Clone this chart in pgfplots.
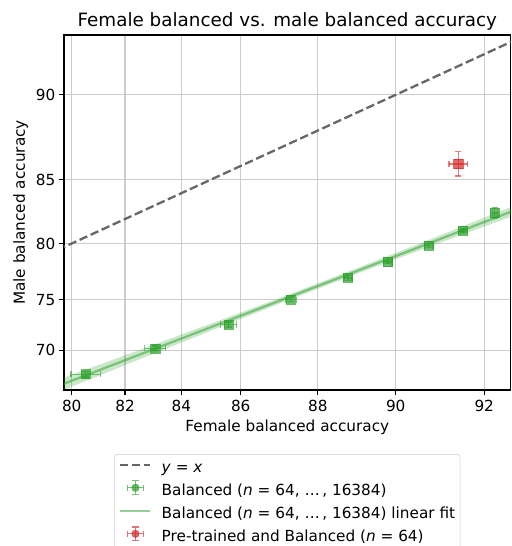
\documentclass[border=0pt]{standalone}
\usepackage{fontspec}
\setmainfont{DejaVu Sans}
\usepackage{pgfplots}
\pgfplotsset{compat=1.18}

\definecolor{tabgreen}{RGB}{44,160,44}
\definecolor{tabred}{RGB}{214,39,40}
\definecolor{dgray}{RGB}{102,102,102}
\definecolor{gridc}{RGB}{204,204,204}

% probit (inverse standard normal CDF) of a percentage, p > 50
\pgfmathdeclarefunction{probit}{1}{%
  \begingroup
  \pgfmathparse{sqrt(-2*ln(1-(#1)/100))}%
  \let\probitT\pgfmathresult
  \pgfmathparse{\probitT-(2.515517+0.802853*\probitT+0.010328*\probitT*\probitT)/(1+1.432788*\probitT+0.189269*\probitT*\probitT+0.001308*\probitT*\probitT*\probitT)}%
  \pgfmathsmuggle\pgfmathresult
  \endgroup}

\newcommand{\errlegendimage}[1]{%
  \draw[overlay, #1, opacity=0.65, line width=0.88pt]
    (5.5pt,3pt) -- (17.5pt,3pt)
    (5.5pt,0.8pt) -- (5.5pt,5.2pt)
    (17.5pt,0.8pt) -- (17.5pt,5.2pt)
    (11.5pt,-2pt) -- (11.5pt,8pt)
    (9.3pt,-2pt) -- (13.7pt,-2pt)
    (9.3pt,8pt) -- (13.7pt,8pt);
  \fill[overlay, #1, opacity=0.7] (9pt,0.5pt) rectangle (14pt,5.5pt);
  \path[draw=none, fill=none] (0pt,0pt) rectangle (22pt,6pt);
}
\newcommand{\linelegendimage}[1]{%
  \draw[overlay, #1] (0pt,3pt) -- (22pt,3pt);
  \path[draw=none, fill=none] (0pt,0pt) rectangle (22pt,6pt);
}

\begin{document}
\begin{tikzpicture}
\begin{axis}[
  at={(0,0)}, anchor=south west,
  scale only axis,
  width=321.6pt, height=255.6pt,
  x coord trafo/.code={\pgfmathparse{probit(#1)}},
  y coord trafo/.code={\pgfmathparse{probit(#1)}},
  xmin=79.70, xmax=92.55,
  ymin=65.80, ymax=92.86,
  xtick={80,82,84,86,88,90,92},
  xticklabels={80,82,84,86,88,90,92},
  ytick={70,75,80,85,90},
  yticklabels={70,75,80,85,90},
  tick pos=left,
  tick align=outside,
  major tick length=3.85pt,
  tick style={black, line width=0.88pt},
  axis line style={line width=0.88pt},
  grid=major,
  grid style={gridc, line width=0.88pt},
  ticklabel style={font=\fontsize{11}{13}\selectfont, inner sep=0pt},
  xticklabel style={anchor=north, yshift=-3.6pt},
  yticklabel style={anchor=east, xshift=-2.2pt},
  title={Female balanced vs. male balanced accuracy},
  title style={at={(0.5,1)}, anchor=base, yshift=0pt, font=\fontsize{13.2}{15}\selectfont, inner sep=0pt},
  xlabel={Female balanced accuracy},
  xlabel style={at={(0.5,0)}, anchor=base, yshift=-30pt, font=\fontsize{11}{13}\selectfont, inner sep=0pt},
  ylabel={Male balanced accuracy},
  ylabel style={at={([xshift=-28.1pt]axis description cs:0,0.5)}, anchor=base, font=\fontsize{11}{13}\selectfont, inner sep=0pt},
  legend style={at={(0.5,-0.1803)}, anchor=north, draw=black!20, rounded corners=2pt, fill=white,
    font=\fontsize{11}{13}\selectfont, inner xsep=3.5pt, inner ysep=4.5pt,
    nodes={inner sep=0pt, text height=8.2pt, text depth=2.6pt},
    column sep=8.4pt, row sep=5.2pt},
  legend cell align=left,
  clip=true,
]
% y = x
\addplot[dgray, line width=1.65pt, dash pattern=on 6.1pt off 2.64pt,
  legend image code/.code={\linelegendimage{dgray, line width=1.65pt, dash pattern=on 6.1pt off 2.64pt}}]
  coordinates {(79,79) (94,94)};
\addlegendentry{\textit{y} = \textit{x}}

% confidence band of linear fit
\addplot[fill=tabgreen, fill opacity=0.25, draw=none, forget plot] coordinates {
  (79,66.45) (81,68.50) (83,70.63) (85,72.87) (87,75.24) (89,77.82) (91,80.63) (93,83.71)
  (93,82.91) (91,80.03) (89,77.33) (87,74.72) (85,72.18) (83,69.73) (81,67.35) (79,65.06)
} -- cycle;

% balanced: error bars (x)
\addplot[tabgreen, opacity=0.6, line width=0.88pt, mark=|, mark size=2.2pt, empty line=jump, forget plot] table {
x y
79.95 67.5
81.05 67.5

82.64 70.2
83.36 70.2

85.15 72.6
85.65 72.6

87.10 75.0
87.40 75.0

88.70 77.0
88.90 77.0

89.70 78.4
89.90 78.4

90.65 79.8
90.85 79.8

91.40 81.0
91.60 81.0

92.10 82.4
92.20 82.4
};
% balanced: error bars (y)
\addplot[tabgreen, opacity=0.6, line width=0.88pt, mark=-, mark size=2.2pt, empty line=jump, forget plot] table {
x y
80.5 67.2
80.5 67.8

83.0 69.95
83.0 70.45

85.4 72.35
85.4 72.85

87.25 74.8
87.25 75.2

88.8 76.8
88.8 77.2

89.8 78.25
89.8 78.55

90.75 79.65
90.75 79.95

91.5 80.85
91.5 81.15

92.15 81.95
92.15 82.85
};
% balanced points
\addplot[only marks, mark=square*, mark size=3.3pt, tabgreen, mark options={opacity=0.7},
  legend image code/.code={\errlegendimage{tabgreen}}]
  coordinates {
  (80.5,67.5) (83.0,70.2) (85.4,72.6) (87.25,75.0) (88.8,77.0)
  (89.8,78.4) (90.75,79.8) (91.5,81.0) (92.15,82.4)
  };
\addlegendentry{Balanced (\textit{n} = 64,\ \ldots\,,\ 16384)}

% linear fit
\addplot[tabgreen, opacity=0.5, line width=1.65pt,
  legend image code/.code={\linelegendimage{tabgreen, line width=1.65pt}}]
  coordinates {(79,65.75) (93,83.32)};
\addlegendentry{Balanced (\textit{n} = 64,\ \ldots\,,\ 16384) linear fit}

% pre-trained and balanced: error bars
\addplot[tabred, opacity=0.6, line width=0.88pt, mark=|, mark size=2.2pt, forget plot] coordinates {(91.2,85.9) (91.6,85.9)};
\addplot[tabred, opacity=0.6, line width=0.88pt, mark=-, mark size=2.2pt, forget plot] coordinates {(91.4,85.1) (91.4,86.7)};
\addplot[only marks, mark=square*, mark size=3.3pt, tabred, mark options={opacity=0.7},
  legend image code/.code={\errlegendimage{tabred}}]
  coordinates {(91.4,85.9)};
\addlegendentry{Pre-trained and Balanced (\textit{n} = 64)}
\end{axis}
\pgfresetboundingbox
\path[use as bounding box] ([shift={(-46.08pt,-112.32pt)}]current axis.south west) rectangle ([shift={(0.94pt,25.2pt)}]current axis.north east);
\end{tikzpicture}
\end{document}
